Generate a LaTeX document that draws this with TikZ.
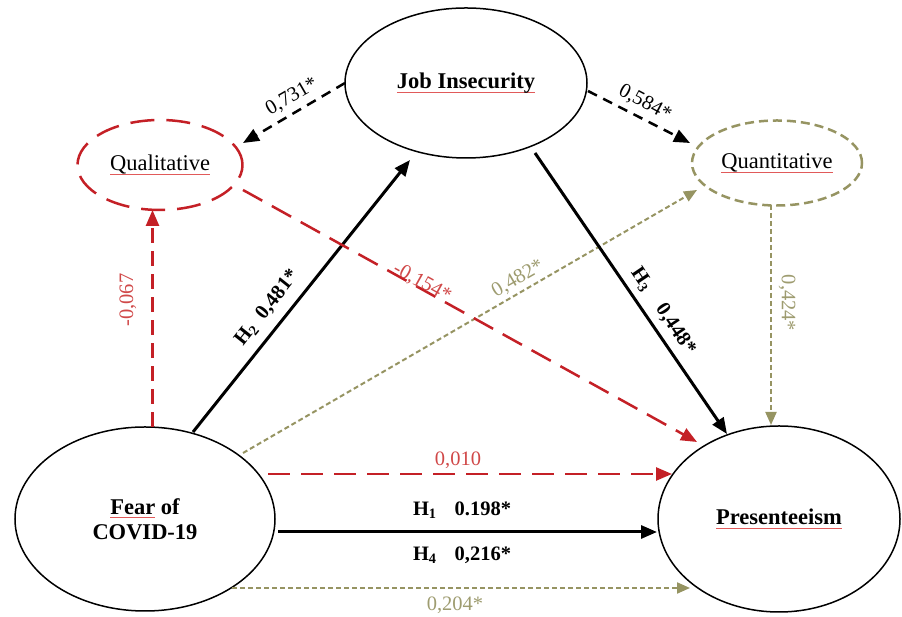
\documentclass[tikz,border=0pt]{standalone}
\usepackage{fontspec}
\setmainfont{Liberation Serif}
\usetikzlibrary{arrows.meta,shapes.geometric,calc}

\definecolor{pathred}{RGB}{196,32,38}
\definecolor{labred}{RGB}{208,72,72}
\definecolor{pathol}{RGB}{150,148,98}
\definecolor{labol}{RGB}{158,156,112}
\definecolor{markred}{RGB}{225,90,90}

% thin red mark under a word
\newcommand\spellmark[1]{\setbox0\hbox{#1}\rlap{\textcolor{markred}{\rule[-4pt]{\wd0}{0.8pt}}}\box0\relax}

\tikzset{
  construct/.style={ellipse, draw, line width=1.5pt, inner sep=0pt, outer sep=0pt,
    align=center, font=\fontsize{22.5}{25}\selectfont},
  dimension/.style={construct, line width=2.5pt},
  lbl/.style={inner sep=1pt, font=\fontsize{20.5}{23}\selectfont},
  blab/.style={lbl, font=\fontsize{20.5}{23}\selectfont\bfseries},
  tipbig/.style={-{Triangle[length=16pt,width=13pt]}},
  tipsmall/.style={-{Triangle[length=13pt,width=11pt]}},
  solidpath/.style={tipbig, line width=3pt, black},
  blackdash/.style={tipbig, line width=2.5pt, black, dash pattern=on 10pt off 7pt},
  reddash/.style={tipbig, line width=2.5pt, pathred, dash pattern=on 22pt off 11pt},
  olivedash/.style={tipsmall, line width=2pt, pathol, dash pattern=on 5pt off 3pt},
}

\begin{document}
\begin{tikzpicture}[x=1pt,y=1pt]
\useasboundingbox (0,0) rectangle (902,617);

% constructs
\node[construct, minimum width=242pt, minimum height=150pt, font=\fontsize{22.5}{25}\selectfont\bfseries]
  (job) at (466,534) {\spellmark{Job Insecurity}};
\node[dimension, draw=pathred, dash pattern=on 24pt off 12pt, minimum width=165pt, minimum height=90pt]
  (qual) at (160,452) {\spellmark{Qualitative}};
\node[dimension, draw=pathol, dash pattern=on 9pt off 5pt, minimum width=170pt, minimum height=85pt]
  (quant) at (777,454) {\spellmark{Quantitative}};
\node[construct, minimum width=260pt, minimum height=184pt, font=\fontsize{22.5}{25}\selectfont\bfseries]
  (fear) at (145,98) {\spellmark{Fear}\ of\\COVID-19};
\node[construct, minimum width=242pt, minimum height=186pt, font=\fontsize{22.5}{25}\selectfont\bfseries]
  (pres) at (779,98) {\spellmark{Presenteeism}};

% job insecurity to its two dimensions
\draw[blackdash] (job.west) -- ($(qual)+(83,22)$);
\draw[blackdash] ($(job)+(122,-8)$) -- ($(quant)+(-87,20)$);

% fear of COVID-19 paths
\coordinate (vx) at ($(fear.north)!0.5!(qual.south)$);
\draw[reddash, dash pattern=on 15pt off 8pt] (vx |- fear.north) -- (vx |- qual.south);
\draw[solidpath] ($(fear)+(48,87)$) -- ($(job)+(-56,-77)$);
\draw[olivedash] ($(fear)+(98,66)$) -- ($(quant)+(-80,-27)$);

% paths into presenteeism
\draw[reddash] ($(qual)+(83,-25)$) -- ($(pres)+(-82,77)$);
\draw[solidpath] ($(job)+(69,-70)$) -- ($(pres)+(-52,85)$);
\draw[olivedash] ($(quant)+(-6,-42)$) -- ($(pres)+(-8,94)$);
\draw[reddash] ($(fear)+(123,45)$) -- ($(pres)+(-107,45)$);
\draw[solidpath] ($(fear)+(133,-13)$) -- ($(pres)+(-122,-13)$);
\draw[olivedash] ($(fear)+(87,-69)$) -- ($(pres)+(-89,-69)$);

% coefficients
\node[lbl, rotate=30] (l731) at (292,520) {0,731*};
\node[lbl, rotate=-28] (l584) at (645,514) {0,584*};
\node[lbl, text=labred, rotate=90] (l067) at (128,317) {-0,067};
\node[blab, rotate=51.5] (l481) at (267,309) {H\textsubscript{2}\enspace0,481*};
\node[lbl, text=labol, rotate=30] (l482) at (518,338) {0,482*};
\node[lbl, text=labred, rotate=-29] (l154) at (422,334) {-0,154*};
\node[blab, rotate=-56] (l448) at (663,306) {H\textsubscript{3}\enspace\enspace0,448*};
\node[lbl, text=labol, rotate=-90] (l424) at (787,314) {0,424*};
\node[lbl, text=labred] (l010) at (458,157) {0,010};
\node[blab] (lh1) at (462,107) {H\textsubscript{1}\hspace{18pt}0.198*};
\node[blab] (lh4) at (462,62) {H\textsubscript{4}\hspace{18pt}0,216*};
\node[lbl, text=labol] (l204) at (455,12) {0,204*};
\end{tikzpicture}
\end{document}
